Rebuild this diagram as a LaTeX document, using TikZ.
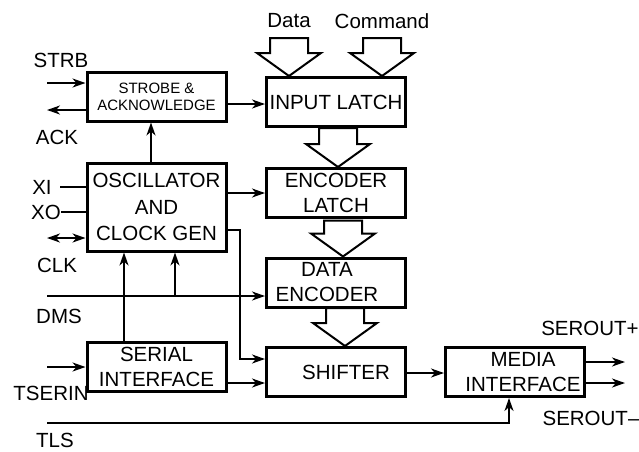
\documentclass[tikz,border=0pt]{standalone}
\usepackage{fontspec}
\setmainfont{Liberation Sans}
\usetikzlibrary{arrows.meta}

% hollow bus arrow: tip point, shaft length
\newcommand{\busarrow}[2]{%
  \draw[bus] #1 -- ++(-32,-23) -- ++(13,0) -- ++(0,-#2) -- ++(38,0)
    -- ++(0,#2) -- ++(13,0) -- cycle;}

\begin{document}
\begin{tikzpicture}[x=1pt,y=-1pt,->,>={Stealth[length=13pt,width=9pt,inset=4pt]},
  line width=2pt,
  block/.style={draw,line width=3pt,minimum width=139pt,minimum height=49pt,
    inner sep=0pt,align=center,font=\fontsize{20.5}{25}\selectfont},
  small block/.style={block,font=\fontsize{15}{17}\selectfont},
  sig/.style={font=\fontsize{20.5}{25}\selectfont,inner sep=0pt},
  bus/.style={-,line width=2pt,line join=miter}]

  \useasboundingbox (0,0) rectangle (639,451);

  % blocks
  \node[small block] (strobe) at (156.5,96.5) {STROBE \&\\ACKNOWLEDGE};
  \node[block] (inlatch) at (336,102) {INPUT LATCH};
  \node[block,minimum height=88pt,font=\fontsize{20.5}{26.5}\selectfont] (osc) at (156.5,207) {OSCILLATOR\\AND\\CLOCK GEN};
  \node[block] (enclatch) at (336,193) {ENCODER\\LATCH};
  \node[block] (dataenc) at (336,282.5) {DATA\hspace*{18pt}\\ENCODER\hspace*{18pt}};
  \node[block] (shifter) at (336,372) {\hspace*{20pt}SHIFTER};
  \node[block] (serial) at (156.5,367) {SERIAL\\INTERFACE};
  \node[block] (media) at (515,372) {\hspace*{16pt}MEDIA\\\hspace*{16pt}INTERFACE};

  % signal names
  \node[sig] (data) at (289,21) {Data};
  \node[sig] (command) at (382,21) {Command};
  \node[sig] (strb) at (61,60) {STRB};
  \node[sig] (ack) at (57,137) {ACK};
  \node[sig] (xi) at (42,187) {XI};
  \node[sig] (xo) at (46,212) {XO};
  \node[sig] (clk) at (57,265) {CLK};
  \node[sig] (dms) at (59,316) {DMS};
  \node[sig] (tserin) at (51,393) {TSERIN};
  \node[sig] (tls) at (55,440) {TLS};
  \node[sig] (seroutp) at (590,328) {SEROUT+};
  \node[sig] (seroutm) at (591,418) {SEROUT--};

  % free ends
  \coordinate (strbin) at (47,83);
  \coordinate (ackout) at (47,110);
  \coordinate (xiin) at (60,187);
  \coordinate (xoin) at (61,212);
  \coordinate (clkio) at (47,238);
  \coordinate (dmsin) at (47,296);
  \coordinate (dmstap) at (175,296);
  \coordinate (tserinin) at (47,367);
  \coordinate (tlsin) at (47,423);
  \coordinate (tlsup) at (509,423);
  \coordinate (clkout) at (240,230);
  \coordinate (shin) at (240,359);
  \coordinate (serup) at (124,0);
  \coordinate (oscup) at (151,0);
  \coordinate (sopout) at (625,362);
  \coordinate (somout) at (625,383);
  \coordinate (stbout) at (0,104);
  \coordinate (serout) at (0,383);

  % connectors
  \draw (strbin) -- (strobe.west |- strbin);
  \draw (strobe.west |- ackout) -- (ackout);
  \draw (strobe.east |- stbout) -- (inlatch.west |- stbout);
  \draw (osc.north -| oscup) -- (strobe.south -| oscup);
  \draw[-] (xiin) -- (osc.west |- xiin);
  \draw[-] (xoin) -- (osc.west |- xoin);
  \draw[<->] (clkio) -- (osc.west |- clkio);
  \draw (osc.east |- enclatch.west) -- (enclatch.west);
  \draw (osc.east |- clkout) -- (clkout) -- (shin) -- (shifter.west |- shin);
  \draw (dmsin) -- (dataenc.west |- dmsin);
  \draw (dmstap) -- (osc.south -| dmstap);
  \draw (serial.north -| serup) -- (osc.south -| serup);
  \draw (tserinin) -- (serial.west |- tserinin);
  \draw (serial.east |- serout) -- (shifter.west |- serout);
  \draw (tlsin) -- (tlsup) -- (media.south -| tlsup);
  \draw (shifter.east |- 0,373) -- (media.west |- 0,373);
  \draw (media.east |- sopout) -- (sopout);
  \draw (media.east |- somout) -- (somout);

  % bus arrows
  \busarrow{(inlatch.north -| 289,0)}{15}
  \busarrow{(inlatch.north -| 382,0)}{15}
  \busarrow{(enclatch.north -| 338,0)}{16}
  \busarrow{(dataenc.north -| 343,0)}{13}
  \busarrow{(shifter.north -| 345,0)}{15}

\end{tikzpicture}
\end{document}
